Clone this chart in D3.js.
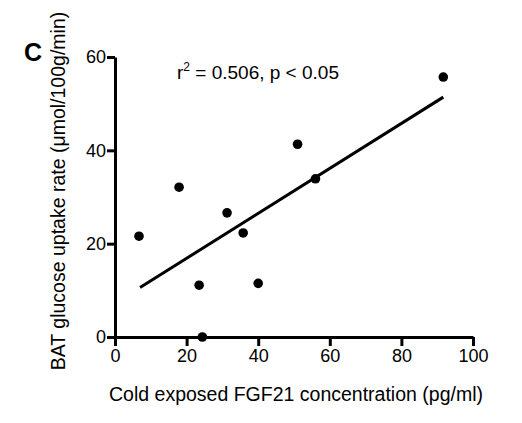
<!DOCTYPE html>
<html>
<head>
<meta charset="utf-8">
<script src="https://cdn.jsdelivr.net/npm/d3@7"></script>
<style>
  body { margin: 0; background: #fff; }
  text { font-family: "Liberation Sans", Arial, sans-serif; fill: #000; }
</style>
</head>
<body>
<div class="chart"></div>
<script>
// FGF21 concentration (x) vs BAT glucose uptake rate (y)
var fgf21 = [6.7, 17.9, 23.5, 24.4, 31.3, 35.8, 40.0, 51.0, 56.0, 91.7];
var uptake = [21.6, 32.1, 11.1, 0.0, 26.6, 22.3, 11.5, 41.3, 33.9, 55.7];

// regression line end points
var fitX = [7.0, 91.7];
var fitY = [10.6, 51.4];

var xTicks = [0, 20, 40, 60, 80, 100];
var yTicks = [0, 20, 40, 60];

var svgWidth = 522;
var svgHeight = 423;

var margin = { top: 57, right: 49, bottom: 86, left: 115 };
var width = svgWidth - margin.left - margin.right;
var height = svgHeight - margin.top - margin.bottom;

var svg = d3.select(".chart")
    .append("svg")
    .attr("width", svgWidth)
    .attr("height", svgHeight);

var chartGroup = svg.append("g")
    .attr("transform", `translate(${margin.left}, ${margin.top})`);

var xLinearScale = d3.scaleLinear().domain([0, 100]).range([0, width]);
var yLinearScale = d3.scaleLinear().domain([0, 60]).range([height, 0]);

var bottomAxis = d3.axisBottom(xLinearScale).tickValues(xTicks).tickSize(9).tickPadding(3).tickSizeOuter(0);
var leftAxis = d3.axisLeft(yLinearScale).tickValues(yTicks).tickSize(8).tickPadding(1).tickSizeOuter(0);

var xAxisG = chartGroup.append("g")
    .attr("transform", `translate(0, ${height})`)
    .call(bottomAxis);

var yAxisG = chartGroup.append("g")
    .call(leftAxis);

[xAxisG, yAxisG].forEach(function (g) {
    g.select(".domain").attr("stroke", "#000").attr("stroke-width", 3);
    g.selectAll(".tick line").attr("stroke", "#000").attr("stroke-width", 3);
    g.selectAll(".tick text")
        .attr("font-family", "Liberation Sans, Arial, sans-serif")
        .attr("font-size", 18)
        .attr("fill", "#000");
});

// fit line
var fit = fitX.map(function (x, i) { return [x, fitY[i]]; });
chartGroup.append("path")
    .datum(fit)
    .attr("d", d3.line().x(d => xLinearScale(d[0])).y(d => yLinearScale(d[1])))
    .attr("stroke", "#000")
    .attr("stroke-width", 3)
    .attr("fill", "none");

// points
chartGroup.selectAll("circle")
    .data(fgf21)
    .enter()
    .append("circle")
    .attr("cx", d => xLinearScale(d))
    .attr("cy", (d, i) => yLinearScale(uptake[i]))
    .attr("r", 4.8)
    .attr("fill", "#000");

// annotation
var note = chartGroup.append("text")
    .attr("x", 62)
    .attr("y", 22)
    .attr("font-size", 19);
note.append("tspan").text("r");
note.append("tspan").attr("font-size", 12).attr("dy", -8).text("2");
note.append("tspan").attr("dy", 8).text(" = 0.506, p < 0.05");

// panel letter
svg.append("text")
    .attr("x", 24)
    .attr("y", 61)
    .attr("font-size", 25)
    .attr("font-weight", "bold")
    .text("C");

// axis labels
svg.append("text")
    .attr("transform", `translate(65, 191) rotate(-90)`)
    .attr("text-anchor", "middle")
    .attr("font-size", 19.5)
    .text("BAT glucose uptake rate (\u03bcmol/100g/min)");

svg.append("text")
    .attr("x", 296)
    .attr("y", 401)
    .attr("text-anchor", "middle")
    .attr("font-size", 19.5)
    .text("Cold exposed FGF21 concentration (pg/ml)");
</script>
</body>
</html>
